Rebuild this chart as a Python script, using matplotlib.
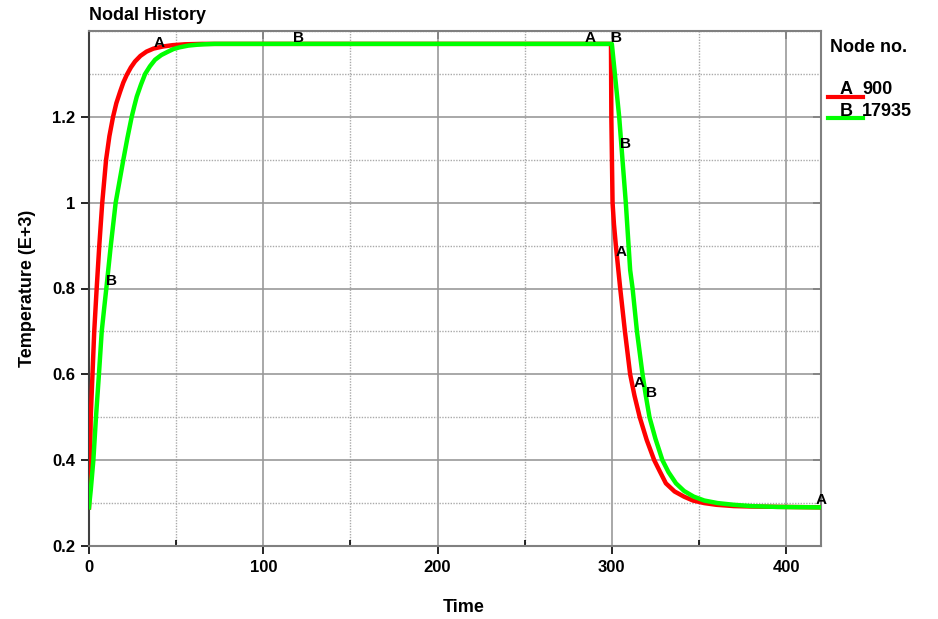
import numpy as np
import matplotlib
matplotlib.use('Agg')
import matplotlib.pyplot as plt
from matplotlib.ticker import MultipleLocator

plt.rcParams['font.family'] = ['Liberation Sans', 'DejaVu Sans']
plt.rcParams['font.weight'] = 'bold'

# node 900 (A), temperature in E+3
t_a = [0, 0.3, 0.6, 1.0, 2.0, 3.0, 4.4, 5.9, 7.6, 9.8, 11.7, 13.8, 15.7, 17.8, 19.7, 21.7, 24, 26.4, 29.5,
       33, 37, 42.6, 48, 55, 65,
       299.5, 299.7, 300.4, 301.2, 302.3, 304.8, 307.5, 310.5, 313, 316, 320, 324.3, 327.5, 331, 336,
       341.4, 346.5, 353, 360, 370, 380, 400, 420]
v_a = [0.29, 0.35, 0.40, 0.50, 0.60, 0.70, 0.80, 0.90, 1.00, 1.10, 1.155, 1.20, 1.232, 1.258, 1.28, 1.298, 1.315, 1.329, 1.342,
       1.352, 1.359, 1.364, 1.367, 1.369, 1.370,
       1.370, 1.20, 1.00, 0.95, 0.90, 0.80, 0.70, 0.60, 0.55, 0.50, 0.447, 0.40, 0.374, 0.346, 0.327,
       0.315, 0.306, 0.30, 0.296, 0.293, 0.292, 0.291, 0.29]

# node 17935 (B)
t_b = [0, 1.0, 2.5, 4.0, 5.7, 7.3, 8.6, 10.2, 12.5, 15.3, 19.7, 22, 24.5, 26, 27.4, 29.8, 32.2, 35, 37.9,
       41.5, 45.4, 48.5, 52, 57, 62, 66, 72,
       300, 304.2, 308, 310.5, 311.9, 314.4, 317.6, 319.5, 321.6, 325, 329, 332.5, 336.8, 341.5,
       347, 353, 360.7, 370, 380, 395, 420]
v_b = [0.29, 0.33, 0.40, 0.50, 0.60, 0.70, 0.75, 0.81, 0.90, 1.00, 1.10, 1.15, 1.20, 1.225, 1.247, 1.275, 1.30, 1.318, 1.333,
       1.344, 1.352, 1.358, 1.362, 1.366, 1.368, 1.369, 1.370,
       1.370, 1.20, 1.00, 0.843, 0.80, 0.70, 0.60, 0.55, 0.50, 0.45, 0.40, 0.372, 0.346, 0.328,
       0.315, 0.306, 0.30, 0.296, 0.293, 0.291, 0.29]

# curve letter labels
lab_a_t = [40.4, 287.5, 305.2, 315.7, 420.1]
lab_a_v = [1.372, 1.384, 0.886, 0.579, 0.307]
lab_b_t = [13.0, 120.3, 302.9, 308.0, 322.8]
lab_b_v = [0.818, 1.384, 1.384, 1.137, 0.556]

nodes = ['900', '17935']
letters = ['A', 'B']
colors = ['#ff0000', '#00ff00']

W, H = 938, 619
fig = plt.figure(figsize=(W / 100, H / 100), dpi=100)
ax = fig.add_axes([89 / W, 1 - 546 / H, (821 - 89) / W, (546 - 31) / H])

ax.plot(t_a, v_a, color=colors[0], lw=3.2, solid_joinstyle='round', zorder=3)
ax.plot(t_b, v_b, color=colors[1], lw=3.2, solid_joinstyle='round', zorder=4)

for t, v in zip(lab_a_t, lab_a_v):
    ax.text(t, v, 'A', ha='center', va='center', fontsize=11, fontweight='bold', zorder=5)
for t, v in zip(lab_b_t, lab_b_v):
    ax.text(t, v, 'B', ha='center', va='center', fontsize=11, fontweight='bold', zorder=5)

ax.set_xlim(0, 420)
ax.set_ylim(0.2, 1.4)
ax.xaxis.set_major_locator(MultipleLocator(100))
ax.xaxis.set_minor_locator(MultipleLocator(50))
ax.yaxis.set_major_locator(MultipleLocator(0.2))
ax.yaxis.set_minor_locator(MultipleLocator(0.1))
ax.set_yticks([0.2, 0.4, 0.6, 0.8, 1.0, 1.2])
ax.set_yticklabels(['0.2', '0.4', '0.6', '0.8', '1', '1.2'])

ax.grid(which='major', color='#999999', lw=1.2, ls='-')
ax.grid(which='minor', color='#aaaaaa', lw=1.0, ls=(0, (1, 1)))
ax.tick_params(which='major', direction='out', length=6, width=1.2, labelsize=12, pad=4)
ax.tick_params(axis='x', which='minor', direction='in', length=4, width=1.2)
ax.tick_params(axis='y', which='minor', length=0)
for lab in ax.get_xticklabels() + ax.get_yticklabels():
    lab.set_fontweight('bold')
for s in ax.spines.values():
    s.set_color('#808080')
    s.set_linewidth(1.5)
ax.spines['left'].set_color('#404040')

top = ax.secondary_xaxis('top')
top.set_xticks([100, 200, 300, 400])
top.tick_params(direction='in', length=6, width=1.2, labeltop=False)
top.spines['top'].set_visible(False)
right = ax.secondary_yaxis('right')
right.set_yticks([0.4, 0.6, 0.8, 1.0, 1.2])
right.tick_params(direction='in', length=6, width=1.2, labelright=False)
right.spines['right'].set_visible(False)

fig.text(89 / W, 1 - 16 / H, 'Nodal History', ha='left', va='center', fontsize=13, fontweight='bold')
fig.text(464 / W, 1 - 607 / H, 'Time', ha='center', va='center', fontsize=13, fontweight='bold')
fig.text(28 / W, 1 - 288 / H, 'Temperature (E+3)', ha='center', va='center', rotation=90,
         fontsize=13, fontweight='bold')

# legend drawn by hand
fig.text(830 / W, 1 - 47 / H, 'Node no.', ha='left', va='center', fontsize=13, fontweight='bold')
for i, (nd, lt, c) in enumerate(zip(nodes, letters, colors)):
    y = 97 + 21 * i
    fig.add_artist(plt.Line2D([828 / W, 863 / W], [1 - y / H, 1 - y / H], color=c, lw=3,
                              transform=fig.transFigure))
    fig.text(846 / W, 1 - (y - 7) / H, lt, ha='center', va='center', fontsize=13, fontweight='bold')
    fig.text(862 / W, 1 - (y - 7) / H, nd, ha='left', va='center', fontsize=13, fontweight='bold')

fig.savefig('out.png', dpi=100)
